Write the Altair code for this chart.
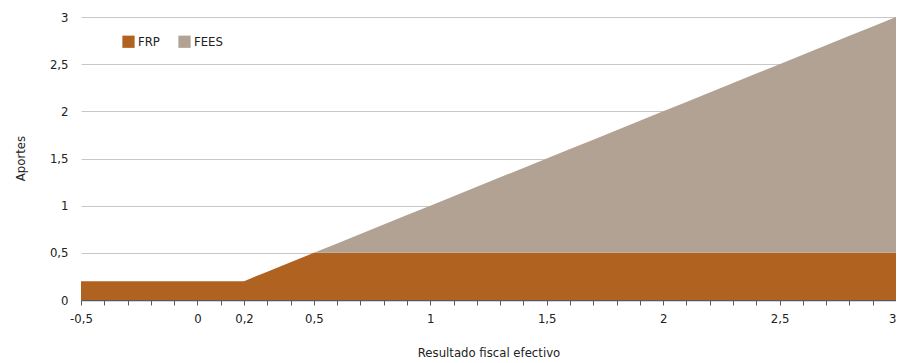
import altair as alt
import pandas as pd

x_vals = [-0.5, -0.4, -0.3, -0.2, -0.1, 0.0, 0.1, 0.2, 0.3, 0.4, 0.5, 0.6,
          0.7, 0.8, 0.9, 1.0, 1.1, 1.2, 1.3, 1.4, 1.5, 1.6, 1.7, 1.8,
          1.9, 2.0, 2.1, 2.2, 2.3, 2.4, 2.5, 2.6, 2.7, 2.8, 2.9, 3.0]
frp = [0.2, 0.2, 0.2, 0.2, 0.2, 0.2, 0.2, 0.2, 0.3, 0.4, 0.5, 0.5,
       0.5, 0.5, 0.5, 0.5, 0.5, 0.5, 0.5, 0.5, 0.5, 0.5, 0.5, 0.5,
       0.5, 0.5, 0.5, 0.5, 0.5, 0.5, 0.5, 0.5, 0.5, 0.5, 0.5, 0.5]
fees = [0, 0, 0, 0, 0, 0, 0, 0, 0, 0, 0, 0.1,
        0.2, 0.3, 0.4, 0.5, 0.6, 0.7, 0.8, 0.9, 1.0, 1.1, 1.2, 1.3,
        1.4, 1.5, 1.6, 1.7, 1.8, 1.9, 2.0, 2.1, 2.2, 2.3, 2.4, 2.5]
series = ["FRP", "FEES"]
colors = ["#B06220", "#B2A293"]
x_labels = [-0.5, 0, 0.2, 0.5, 1, 1.5, 2, 2.5, 3]
y_ticks = [0, 0.5, 1, 1.5, 2, 2.5, 3]

rows = []
for i, xv in enumerate(x_vals):
    rows.append({"x": xv, "serie": "FRP", "v": frp[i], "ord": 0})
    rows.append({"x": xv, "serie": "FEES", "v": fees[i], "ord": 1})
df = pd.DataFrame(rows)

FONT = "DejaVu Sans Condensed, Liberation Sans Narrow, sans-serif"
lbl_list = "[" + ",".join(str(v) for v in x_labels) + "]"

chart = alt.Chart(df).mark_area(opacity=1, interpolate="linear").encode(
    x=alt.X("x:Q",
            scale=alt.Scale(domain=[-0.5, 3], nice=False, zero=False),
            axis=alt.Axis(
                title="Resultado fiscal efectivo",
                values=x_vals,
                labelExpr="indexof(" + lbl_list + ", datum.value) >= 0 ? replace(datum.value + '', '.', ',') : ''",
                labelAlign={"condition": {"test": "datum.value >= 3", "value": "right"}, "value": "center"},
                grid=False,
                domainColor="#595959", domainWidth=1.5,
                tickColor="#595959", tickSize=5,
                labelPadding=7, labelOverlap=False, labelFlush=False, labelBound=False,
                titleY=52, titleBaseline="middle",
            )),
    y=alt.Y("v:Q", stack="zero",
            scale=alt.Scale(domain=[0, 3], nice=False),
            axis=alt.Axis(
                title="Aportes",
                values=y_ticks,
                labelExpr="replace(datum.value + '', '.', ',')",
                domain=False, ticks=False,
                gridColor="#c8c8c8", gridWidth=1,
                labelPadding=13,
                titleX=-61, titleY=141, titleAngle=-90, titleBaseline="middle",
            )),
    color=alt.Color("serie:N",
                    scale=alt.Scale(domain=series, range=colors),
                    legend=alt.Legend(
                        title=None, orient="none", direction="horizontal",
                        legendX=41, legendY=18,
                        symbolType="square", symbolSize=150,
                        symbolStrokeWidth=0, symbolOpacity=1,
                        columnPadding=18, labelOffset=3,
                    )),
    order=alt.Order("ord:Q", sort="ascending"),
).properties(
    width=815, height=283,
    autosize=alt.AutoSizeParams(type="none"),
    padding={"left": 73, "top": 9, "right": 0, "bottom": 60},
).configure_view(stroke=None).configure_axis(
    labelFont=FONT, titleFont=FONT, labelFontSize=13, titleFontSize=13,
    labelColor="#222222", titleColor="#222222", titleFontWeight="normal",
).configure_legend(
    labelFont=FONT, labelFontSize=13, labelColor="#222222",
)

chart.save("out.html", embed_options={"renderer": "svg", "actions": False})
